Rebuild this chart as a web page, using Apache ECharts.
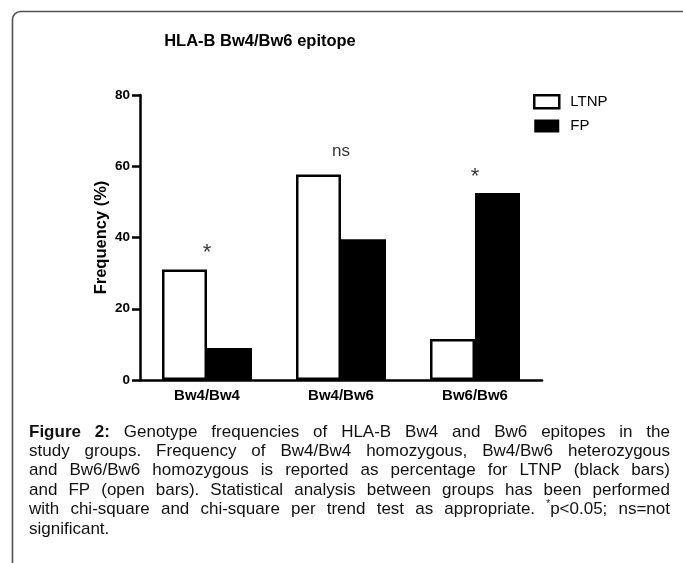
<!DOCTYPE html>
<html><head><meta charset="utf-8">
<script src="https://cdn.jsdelivr.net/npm/echarts@6/dist/echarts.min.js"></script>
<style>html,body{margin:0;padding:0;background:#fff}#c{width:683px;height:563px}</style>
</head><body><div id="c"></div>
<script>
// ---- data ----
const categories = ['Bw4/Bw4', 'Bw4/Bw6', 'Bw6/Bw6'];
const seriesNames = ['LTNP', 'FP'];
const ltnpValues = [31, 57.7, 11.5];
const fpValues = [9, 39.5, 52.5];
const significance = ['*', 'ns', '*'];
const yTicks = [0, 20, 40, 60, 80];
const chartTitle = 'HLA-B Bw4/Bw6 epitope';
const yAxisTitle = 'Frequency (%)';
const captionLines = [
  'Figure 2: Genotype frequencies of HLA-B Bw4 and Bw6 epitopes in the',
  'study groups. Frequency of Bw4/Bw4 homozygous, Bw4/Bw6 heterozygous',
  'and Bw6/Bw6 homozygous is reported as percentage for LTNP (black bars)',
  'and FP (open bars). Statistical analysis between groups has been performed',
  'with chi-square and chi-square per trend test as appropriate. *p<0.05; ns=not',
  'significant.'
];

const FONT = '"Liberation Sans", Arial, Helvetica, sans-serif';
const ctx = document.createElement('canvas').getContext('2d');
function tw(t, size, bold) { ctx.font = (bold ? 'bold ' : '') + size + 'px ' + FONT; return ctx.measureText(t).width; }

// ---- caption layout (justified) ----
const capX0 = 29, capX1 = 670, capY0 = 432, capLH = 19.4, capFS = 17;
const capSupFS = 10;
function wordSegments(word, lineIdx, wordIdx) {
  if (lineIdx === 0 && wordIdx < 2) return [{ t: word, bold: true, size: capFS, dy: 0 }];
  if (word.startsWith('*p')) return [{ t: '*', bold: false, size: capSupFS, dy: -5 }, { t: word.slice(1), bold: false, size: capFS, dy: 0 }];
  return [{ t: word, bold: false, size: capFS, dy: 0 }];
}
const captionGraphics = [];
captionLines.forEach((line, li) => {
  const words = line.split(' ');
  const segs = words.map((w, wi) => wordSegments(w, li, wi));
  const widths = segs.map(s => s.reduce((a, g) => a + tw(g.t, g.size, g.bold), 0));
  const total = widths.reduce((a, b) => a + b, 0);
  const last = li === captionLines.length - 1;
  const gap = last ? tw(' ', capFS, false) : (capX1 - capX0 - total) / (words.length - 1);
  let x = capX0;
  const y = capY0 + li * capLH;
  segs.forEach((s) => {
    s.forEach(g => {
      captionGraphics.push({
        type: 'text', x: x, y: y + g.dy, silent: true,
        style: { text: g.t, fill: '#111', font: (g.bold ? 'bold ' : '') + g.size + 'px ' + FONT, verticalAlign: 'middle', align: 'left' }
      });
      x += tw(g.t, g.size, g.bold);
    });
    x += gap;
  });
});

const chart = echarts.init(document.getElementById('c'), null, { renderer: 'canvas' });
const annotData = categories.map((c, i) => {
  const star = significance[i] === '*';
  return {
    value: [c, Math.max(ltnpValues[i], fpValues[i])],
    label: { formatter: significance[i], fontSize: star ? 22 : 17, distance: star ? 5 : 14 }
  };
});
chart.setOption({
  animation: false,
  backgroundColor: '#fff',
  title: {
    text: chartTitle, left: 260, top: 33, textAlign: 'center', padding: 0,
    textStyle: { fontSize: 16.5, fontWeight: 'bold', color: '#000', fontFamily: FONT }
  },
  legend: {
    orient: 'vertical', left: 533, top: 94, padding: 0, itemWidth: 25, itemHeight: 13, itemGap: 9,
    icon: 'rect',
    textStyle: { fontSize: 15, color: '#000', fontFamily: FONT, padding: [0, 0, 0, 6] },
    data: [
      { name: seriesNames[0], itemStyle: { color: '#fff', borderColor: '#000', borderWidth: 2.5 } },
      { name: seriesNames[1], itemStyle: { color: '#000', borderWidth: 0 } }
    ]
  },
  grid: { left: 140, right: 141, top: 95, bottom: 183, containLabel: false },
  xAxis: {
    type: 'category', data: categories,
    axisLine: { lineStyle: { color: '#000', width: 2.5 } },
    axisTick: { alignWithLabel: true, length: 6, lineStyle: { color: '#000', width: 2.5 } },
    axisLabel: { color: '#000', fontWeight: 'bold', fontSize: 15, margin: 8, fontFamily: FONT }
  },
  yAxis: {
    type: 'value', min: yTicks[0], max: yTicks[yTicks.length - 1], interval: yTicks[1] - yTicks[0],
    name: yAxisTitle, nameLocation: 'middle', nameGap: 30, nameMoveOverlap: false,
    nameTextStyle: { fontSize: 16.5, fontWeight: 'bold', color: '#000', fontFamily: FONT },
    axisLine: { show: true, lineStyle: { color: '#000', width: 2.5 } },
    axisTick: { show: true, length: 8, lineStyle: { color: '#000', width: 2.5 } },
    axisLabel: { color: '#000', fontWeight: 'bold', fontSize: 13.5, margin: 10, fontFamily: FONT },
    splitLine: { show: false }
  },
  series: [
    {
      name: seriesNames[0], type: 'bar', data: ltnpValues, barWidth: 45, barGap: '0%',
      itemStyle: { color: '#fff', borderColor: '#000', borderWidth: 2.5 }
    },
    {
      name: seriesNames[1], type: 'bar', data: fpValues, barWidth: 45, barGap: '0%',
      itemStyle: { color: '#000', borderColor: '#000', borderWidth: 0 }
    },
    {
      name: 'sig', type: 'scatter', data: annotData, symbol: 'circle', symbolSize: 1,
      itemStyle: { color: 'rgba(0,0,0,0)' },
      silent: true, z: 5,
      label: { show: true, position: 'top', color: '#000', fontFamily: FONT }
    }
  ],
  graphic: [
    { type: 'rect', silent: true, z: -10, shape: { x: 12.5, y: 11.5, width: 720, height: 620, r: 8 }, style: { fill: 'none', stroke: '#505050', lineWidth: 1.6 } }
  ].concat(captionGraphics)
});
</script>
</body></html>
